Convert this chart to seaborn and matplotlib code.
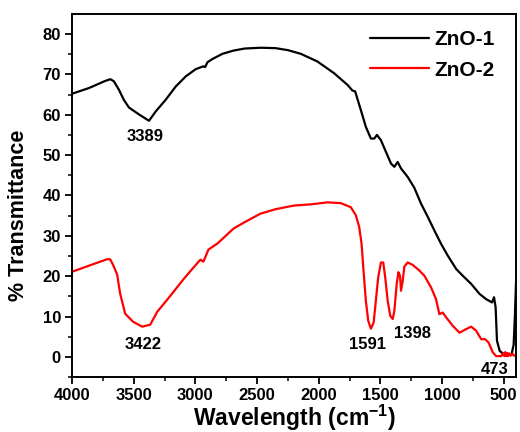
import numpy as np
import pandas as pd
import matplotlib
matplotlib.use("Agg")
import matplotlib.pyplot as plt
import seaborn as sns

# FTIR spectra: wavenumber (cm^-1) and % transmittance
zno1_wn = [4000, 3864, 3729, 3689, 3661, 3620, 3580, 3539, 3458, 3376, 3322, 3241, 3159,
           3078, 2997, 2935, 2921, 2902, 2862, 2780, 2690, 2600, 2472, 2350, 2250, 2146,
           2011, 1876, 1767, 1727, 1705, 1659, 1618, 1577, 1550, 1528, 1496, 1455, 1414,
           1387, 1360, 1333, 1279, 1225, 1171, 1116, 1062, 1008, 954, 886, 832, 764, 696,
           642, 595, 579, 566, 555, 533, 492, 438, 420, 410, 400]
zno1_t = [65.2, 66.6, 68.4, 68.8, 68.3, 66.2, 63.7, 61.8, 60.1, 58.5, 60.8, 63.7, 67.0,
          69.5, 71.3, 72.0, 71.8, 73.0, 73.8, 75.1, 75.9, 76.4, 76.6, 76.5, 76.0, 75.1,
          73.2, 70.3, 67.4, 66.0, 65.8, 61.2, 57.0, 54.1, 54.1, 55.0, 53.7, 50.8, 47.9,
          47.1, 48.3, 46.7, 44.6, 41.9, 38.0, 34.7, 31.3, 28.0, 25.1, 21.8, 20.1, 18.1, 15.6,
          14.3, 13.5, 14.8, 12.3, 4.0, 1.5, 0.5, 0.5, 3.0, 10.0, 19.0]

zno2_wn = [4000, 3900, 3772, 3716, 3691, 3667, 3634, 3610, 3569, 3504, 3431, 3366, 3309,
           3228, 3160, 3098, 3008, 2959, 2935, 2894, 2821, 2691, 2600, 2472, 2350, 2203,
           2065, 1927, 1821, 1740, 1699, 1672, 1653, 1637, 1618, 1599, 1577, 1555, 1537,
           1518, 1496, 1477, 1461, 1441, 1420, 1400, 1387, 1368, 1354, 1341, 1333, 1319,
           1306, 1279, 1238, 1184, 1143, 1089, 1049, 1022, 995, 967, 913, 859, 805, 764,
           724, 683, 651, 624, 588, 561, 540, 520, 505, 495, 488, 480, 473, 466, 458, 445,
           430, 415, 400]
zno2_t = [21.1, 22.2, 23.6, 24.2, 24.2, 22.8, 20.4, 15.7, 10.7, 8.7, 7.5, 8.0, 11.2,
          14.2, 16.8, 19.2, 22.4, 24.1, 23.6, 26.6, 28.1, 31.8, 33.4, 35.5, 36.6, 37.5,
          37.8, 38.3, 38.1, 37.1, 35.1, 32.2, 28.1, 21.4, 13.9, 9.0, 7.0, 8.5, 13.9,
          19.7, 23.4, 23.4, 19.7, 13.9, 10.2, 9.4, 11.4, 18.1, 21.0, 20.1, 16.4, 18.9,
          22.4, 23.4, 22.8, 21.4, 20.1, 17.2, 14.3, 10.6, 11.0, 9.8, 7.7, 6.0, 6.9, 7.5,
          6.5, 4.4, 4.4, 3.6, 1.1, 0.2, 0.2, 0.2, 0.9, 0.2, 1.2, 0.2, 1.0, 0.2, 0.9, 0.3,
          0.8, 0.3, 0.5]

series_names = ["ZnO-1", "ZnO-2"]
series_colors = ["black", "red"]

# Peak annotations: (text, wavenumber, transmittance)
peak_labels = [("3389", 3406, 54.5), ("3422", 3423, 3.2), ("1591", 1602, 3.2),
               ("1398", 1236, 5.7), ("473", 577, -3.0)]

df = pd.concat([
    pd.DataFrame({"wn": zno1_wn, "T": zno1_t, "sample": series_names[0]}),
    pd.DataFrame({"wn": zno2_wn, "T": zno2_t, "sample": series_names[1]}),
], ignore_index=True)

sns.set_style("ticks")
plt.rcParams["font.family"] = ["Liberation Sans", "DejaVu Sans"]
plt.rcParams["font.weight"] = "bold"
plt.rcParams["mathtext.fontset"] = "custom"
plt.rcParams["mathtext.rm"] = "Liberation Sans:bold"
plt.rcParams["mathtext.bf"] = "Liberation Sans:bold"
plt.rcParams["mathtext.default"] = "bf"
plt.rcParams["lines.solid_joinstyle"] = "round"
for key in ["text.color", "axes.labelcolor", "xtick.color", "ytick.color",
            "axes.edgecolor"]:
    plt.rcParams[key] = "black"

fig = plt.figure(figsize=(5.2, 4.32), dpi=100)
ax = fig.add_axes([0.1385, 0.127, 0.854, 0.841])

sns.lineplot(data=df, x="wn", y="T", hue="sample", palette=series_colors,
             linewidth=1.6, ax=ax, sort=False, estimator=None)

ax.set_xlim(4000, 400)
ax.set_ylim(-5, 85)
ax.set_xticks([4000, 3500, 3000, 2500, 2000, 1500, 1000, 500])
ax.set_xticks(np.arange(3750, 400, -500), minor=True)
ax.set_yticks(np.arange(0, 81, 10))
ax.set_yticks(np.arange(-5, 85, 10), minor=True)
ax.tick_params(axis="both", which="major", direction="out", length=5, width=1.3,
               labelsize=12, pad=3, colors="black")
ax.tick_params(axis="both", which="minor", direction="out", length=3, width=1.1,
               colors="black")
for lbl in ax.get_xticklabels() + ax.get_yticklabels():
    lbl.set_fontweight("bold")

for sp in ax.spines.values():
    sp.set_visible(True)
    sp.set_linewidth(1.4)
    sp.set_color("black")

ax.set_xlabel("Wavelength (cm$^{-1}$)", fontsize=16.5, fontweight="bold",
              va="baseline", color="black")
ax.xaxis.set_label_coords(0.5, -0.134)
ax.set_ylabel("% Transmittance", fontsize=15.5, fontweight="bold", color="black")
ax.yaxis.set_label_coords(-0.097, 0.446)

for txt, x, y in peak_labels:
    ax.text(x, y, txt, ha="center", va="center", fontsize=12, fontweight="bold",
            color="black")

leg = ax.legend(loc="upper right", bbox_to_anchor=(0.952, 0.955), frameon=False,
                fontsize=15, handlelength=2.85, handletextpad=0.25, labelspacing=0.55,
                borderpad=0, borderaxespad=0, title=None)
for t in leg.get_texts():
    t.set_fontweight("bold")
    t.set_color("black")

fig.savefig("out.png", dpi=100)
